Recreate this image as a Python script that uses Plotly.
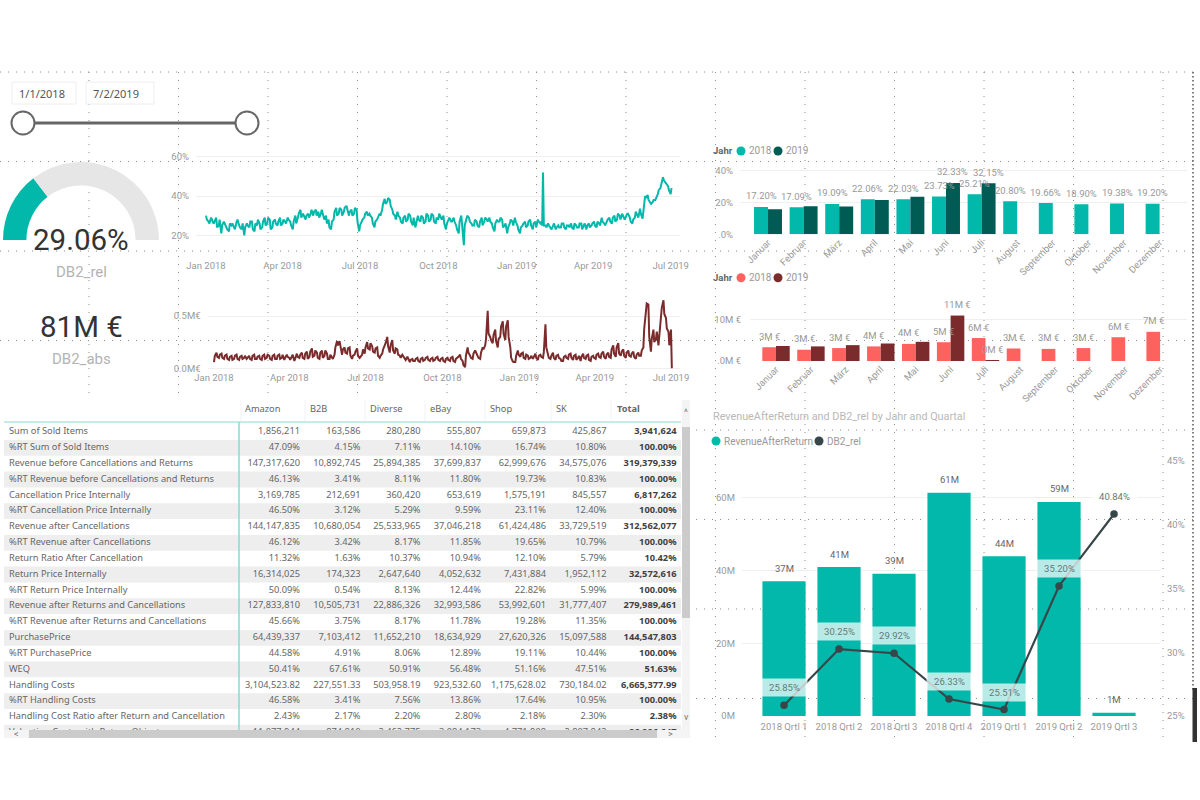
import pandas as pd
import plotly.graph_objects as go

W, H = 1200, 800
FONT = "Roboto"
TFONT = "Noto Sans"
GREY = "#999999"

# ---------- data ----------
gauge_value = [29.06, 70.94, 100]
rel_values = [
    30,27,29,26,29,25,21,27,24,22,
    25,24,27,25,23,20,26,24,27,22,
    25,26,24,29,26,28,24,28,25,29,
    26,27,29,27,23,30,29,33,31,28,
    31,31,30,33,32,31,29,30,28,23,
    28,34,31,33,32,35,30,33,31,33,
    22,27,29,32,31,29,24,28,31,33,
    38.5,37,38,33,30,32,29,26,30,28,
    30,25,24,30,27,29,27,30,28,30,
    26,28,29,30,23,28,27,29,25,21,
    30,15,28,29,26,25,27,24,29,27,
    28,29,26,22,28,27,28,25,21,26,
    27,29,25,21,25,27,25,28,23,27,
    28,26,52,25,26,24,25,23,25,24,
    26,23,25,26,23,25,24,26,25,23,
    26,25,27,24,26,29,26,27,29,26,
    30,28,30,31,28,31,29,26,29,30,
    33.5,28.5,40,40.5,37,37,38,41,44,49.5,
    47,45,41]
rel_between = [
    28,26,28,27,24,28,25,26,23,26,
    26,23,28,24,26,24,25,27,23,26,
    28,23,27,25,29,23,27,26,27,25,
    28,26,28,25,27,26,31,29,30,30,
    29,33,32,30,29,33,28,26,24,27,
    32,30,34,30,34,33,32,30,34,27,
    25,28,31,30,30,26,27,29,30,36,
    36,39,35,31,28,30,27,29,27,31,
    27,29,26,28,30,26,31,27,31,27,
    29,31,28,26,26,29,27,27,23,27,
    25,25,30,27,25,28,25,27,25,29,
    27,27,24,26,27,29,24,26,24,28,
    25,27,23,24,26,24,27,25,26,24,
    27,27,25,24,25,23,26,24,24,26,
    24,25,24,24,26,24,26,23,26,25,
    24,26,25,27,25,27,25,28,27,29,
    27,31,28,30,29,31,27,28,32,29,
    31,33,39,38,36,38,39,43,46,48,
    46,43,44]
rel_extra_dates = ["2019-01-31"]
rel_extra_values = [25]
abs_values = [
    .06,.15,.10,.14,.09,.13,.08,.12,.09,.13,
    .08,.12,.10,.09,.12,.08,.13,.09,.12,.08,
    .13,.10,.12,.08,.13,.09,.13,.10,.08,.13,
    .10,.12,.07,.14,.10,.15,.09,.16,.11,.19,
    .12,.15,.09,.17,.12,.14,.09,.11,.13,.26,
    .26,.13,.20,.14,.20,.09,.13,.19,.10,.13,
    .14,.25,.18,.21,.15,.20,.10,.14,.21,.30,
    .15,.27,.14,.18,.12,.13,.09,.11,.06,.09,
    .07,.10,.06,.10,.08,.11,.07,.10,.08,.11,
    .07,.10,.06,.10,.07,.11,.06,.10,.13,.07,
    .01,.20,.12,.09,.17,.12,.09,.20,.22,.55,
    .30,.24,.37,.20,.30,.45,.27,.46,.20,.065,
    .06,.17,.11,.15,.09,.12,.10,.09,.14,.08,
    .13,.10,.42,.13,.09,.15,.08,.13,.09,.07,
    .12,.09,.14,.08,.13,.10,.07,.14,.09,.13,
    .07,.12,.09,.14,.10,.16,.09,.15,.10,.22,
    .11,.24,.12,.18,.10,.17,.11,.16,.09,.15,
    .12,.20,.54,.61,.16,.37,.28,.22,.43,.65,
    .48,.35,.37]
abs_between = [
    .12,.11,.13,.10,.12,.09,.11,.08,.12,.09,
    .11,.09,.12,.10,.09,.12,.09,.11,.09,.12,
    .09,.13,.09,.12,.09,.12,.09,.13,.10,.11,
    .08,.13,.09,.11,.13,.10,.14,.09,.16,.11,
    .17,.10,.15,.10,.17,.09,.13,.09,.20,.22,
    .20,.18,.15,.19,.12,.12,.16,.12,.11,.18,
    .20,.19,.24,.16,.19,.12,.12,.18,.24,.21,
    .22,.17,.19,.13,.10,.12,.08,.09,.08,.07,
    .09,.07,.09,.07,.10,.08,.09,.07,.10,.08,
    .09,.07,.09,.08,.10,.07,.09,.11,.09,.03,
    .12,.15,.10,.14,.15,.10,.15,.18,.28,.33,
    .27,.32,.26,.28,.40,.33,.40,.30,.10,.06,
    .12,.13,.14,.10,.13,.09,.12,.11,.10,.12,
    .11,.15,.20,.10,.12,.10,.12,.10,.07,.11,
    .10,.13,.10,.12,.08,.12,.11,.10,.12,.08,
    .11,.10,.13,.11,.14,.11,.13,.11,.18,.14,
    .20,.14,.16,.12,.15,.12,.14,.11,.13,.12,
    .17,.38,.62,.30,.28,.25,.35,.30,.58,.52,
    .38,.22,.0]
date_ticks = ["2018-01-01", "2018-04-01", "2018-07-01", "2018-10-01", "2019-01-01", "2019-04-01", "2019-07-01"]

months = ["Januar", "Februar", "März", "April", "Mai", "Juni", "Juli", "August",
          "September", "Oktober", "November", "Dezember"]
pct_2018 = [17.20, 17.09, 19.09, 22.06, 22.03, 23.73, 25.21, 20.80, 19.66, 18.90, 19.38, 19.20]
pct_2019 = [15.8, 17.7, 17.5, 21.5, 23.6, 32.33, 32.15, None, None, None, None, None]
pct_2018_labels = ["17.20%", "17.09%", "19.09%", "22.06%", "22.03%", "23.73%", "25.21%", "20.80%", "19.66%", "18.90%", "19.38%", "19.20%"]
pct_2019_labels = [None, None, None, None, None, "32.33%", "32.15%", None, None, None, None, None]
eur_2018 = [3.3, 2.7, 3.1, 3.5, 4.1, 4.5, 5.5, 3.0, 2.9, 3.1, 5.7, 7.0]
eur_2019 = [3.6, 3.5, 3.8, 4.2, 4.6, 10.9, 0.24, None, None, None, None, None]
eur_2018_labels = ["3M €", "3M €", "3M €", "4M €", "4M €", "5M €", "6M €", "3M €", "3M €", "3M €", "6M €", "7M €"]
eur_2019_labels = [None, None, None, None, None, "11M €", "0M €", None, None, None, None, None]

quarters = ["2018 Qrtl 1", "2018 Qrtl 2", "2018 Qrtl 3", "2018 Qrtl 4", "2019 Qrtl 1", "2019 Qrtl 2", "2019 Qrtl 3"]
revenue = [37.0, 40.9, 39.1, 61.3, 43.9, 58.8, 0.9]
revenue_labels = ["37M", "41M", "39M", "61M", "44M", "59M", "1M"]
db2_rel = [25.85, 30.25, 29.92, 26.33, 25.51, 35.20, 40.84]
db2_labels = ["25.85%", "30.25%", "29.92%", "26.33%", "25.51%", "35.20%", "40.84%"]

row_labels = ["Sum of Sold Items", "%RT Sum of Sold Items", "Revenue before Cancellations and Returns",
              "%RT Revenue before Cancellations and Returns", "Cancellation Price Internally",
              "%RT Cancellation Price Internally", "Revenue after Cancellations", "%RT Revenue after Cancellations",
              "Return Ratio After Cancellation", "Return Price Internally", "%RT Return Price Internally",
              "Revenue after Returns and Cancellations", "%RT Revenue after Returns and Cancellations",
              "PurchasePrice", "%RT PurchasePrice", "WEQ", "Handling Costs", "%RT Handling Costs",
              "Handling Cost Ratio after Return and Cancellation", "Valuation Costs with Return Objects"]
amazon = ["1,856,211","47.09%","147,317,620","46.13%","3,169,785","46.50%","144,147,835","46.12%","11.32%","16,314,025","50.09%","127,833,810","45.66%","64,439,337","44.58%","50.41%","3,104,523.82","46.58%","2.43%","11,077,944"]
b2b = ["163,586","4.15%","10,892,745","3.41%","212,691","3.12%","10,680,054","3.42%","1.63%","174,323","0.54%","10,505,731","3.75%","7,103,412","4.91%","67.61%","227,551.33","3.41%","2.17%","874,810"]
diverse = ["280,280","7.11%","25,894,385","8.11%","360,420","5.29%","25,533,965","8.17%","10.37%","2,647,640","8.13%","22,886,326","8.17%","11,652,210","8.06%","50.91%","503,958.19","7.56%","2.20%","2,462,775"]
ebay = ["555,807","14.10%","37,699,837","11.80%","653,619","9.59%","37,046,218","11.85%","10.94%","4,052,632","12.44%","32,993,586","11.78%","18,634,929","12.89%","56.48%","923,532.60","13.86%","2.80%","3,084,173"]
shop = ["659,873","16.74%","62,999,676","19.73%","1,575,191","23.11%","61,424,486","19.65%","12.10%","7,431,884","22.82%","53,992,601","19.28%","27,620,326","19.11%","51.16%","1,175,628.02","17.64%","2.18%","4,771,908"]
sk = ["425,867","10.80%","34,575,076","10.83%","845,557","12.40%","33,729,519","10.79%","5.79%","1,952,112","5.99%","31,777,407","11.35%","15,097,588","10.44%","47.51%","730,184.02","10.95%","2.30%","2,807,842"]
total = ["3,941,624","100.00%","319,379,339","100.00%","6,817,262","100.00%","312,562,077","100.00%","10.42%","32,572,616","100.00%","279,989,461","100.00%","144,547,803","100.00%","51.63%","6,665,377.99","100.00%","2.38%","26,886,647"]
col_names = ["Amazon", "B2B", "Diverse", "eBay", "Shop", "SK", "Total"]

# ---------- helpers ----------
def xd(a, b): return [a / W, b / W]
def yd(top, bot): return [1 - bot / H, 1 - top / H]
def px(v): return v / W
def py(v): return 1 - v / H

shapes, annos = [], []
def paper_rect(x0, y0, x1, y1, fill, line=None, layer="below"):
    shapes.append(dict(type="rect", xref="paper", yref="paper", x0=px(x0), x1=px(x1), y0=py(y1), y1=py(y0),
                       fillcolor=fill, line=dict(color=line or fill, width=1 if line else 0), layer=layer))
def paper_circle(cx, cy, r, fill, line=None, lw=0, layer="above"):
    shapes.append(dict(type="circle", xref="paper", yref="paper", x0=px(cx - r), x1=px(cx + r), y0=py(cy + r), y1=py(cy - r),
                       fillcolor=fill, line=dict(color=line or fill, width=lw), layer=layer))
def paper_line(x0, y0, x1, y1, color, width, dash="solid", layer="below"):
    shapes.append(dict(type="line", xref="paper", yref="paper", x0=px(x0), x1=px(x1), y0=py(y0), y1=py(y1),
                       line=dict(color=color, width=width, dash=dash), layer=layer))
def label(x, y, text, size=10, color=GREY, anchor="center", font=FONT):
    annos.append(dict(xref="paper", yref="paper", x=px(x), y=py(y), text=text, showarrow=False, xanchor=anchor, yanchor="middle",
                      font=dict(family=font, size=size, color=color)))

# ---------- designer dotted grid ----------
DOT = "1px,7px"
for y in [72, 161.5, 251, 340.5, 430, 519.5, 609, 698.5]:
    paper_line(0, y, 1193, y, "#8c8c8c", 1, DOT)
for x in [89, 178.5, 268, 357.5, 447, 536.5, 626, 715.5, 805, 894.5, 984, 1073.5, 1163]:
    paper_line(x, 72, x, 742, "#8c8c8c", 1, DOT)
paper_line(1193, 72, 1193, 690, "#555555", 1.5, "1.5px,2.5px")
paper_rect(1192.5, 688, 1197, 742, "#333333", layer="above")
paper_rect(0, 398, 692, 742, "white")

# ---------- date slicer ----------
for a, b, t in [(12, 76, "1/1/2018"), (86, 154, "7/2/2019")]:
    paper_rect(a, 82, b, 104, "white", "#eeeeee", layer="above")
    label(a + 5, 93.5, t, 11, "#555555", "left", TFONT)
paper_line(34, 123, 236, 123, "#666666", 3, layer="above")
paper_circle(23, 123, 11.5, "white", "#666666", 2)
paper_circle(247, 123, 11.5, "white", "#666666", 2)

fig = go.Figure()

# ---------- gauge ----------
fig.add_trace(go.Pie(values=gauge_value, domain=dict(x=xd(3, 159), y=yd(162, 318)), hole=0.7, sort=False,
                     direction="clockwise", rotation=270, textinfo="none", hoverinfo="skip", showlegend=False,
                     marker=dict(colors=["#01B8AA", "#E6E6E6", "rgba(0,0,0,0)"], line=dict(width=0))))
label(81, 240, "29.06%", 29.5, "#333333")
label(81, 272, "DB2_rel", 15, "#b3b3b3")
label(81, 327, "81M €", 29.5, "#333333")
label(81, 359, "DB2_abs", 15, "#b3b3b3")

axis_common = dict(showline=False, zeroline=False, automargin=False, tickfont=dict(family=FONT, size=9.5, color=GREY))
layout_axes = {}

# ---------- line charts ----------
def daily_series(values, between, extra_dates=(), extra_values=()):
    d = pd.date_range("2018-01-01", periods=len(values), freq="3D")
    parts = [pd.Series(values, index=d), pd.Series(between, index=d + pd.Timedelta(days=1))]
    if len(extra_dates):
        parts.append(pd.Series(list(extra_values), index=pd.to_datetime(list(extra_dates))))
    return pd.concat(parts).sort_index()

rel_s = daily_series(rel_values, rel_between, rel_extra_dates, rel_extra_values)
abs_s = daily_series(abs_values, abs_between)

t0 = pd.Timestamp("2018-01-01")
fig.add_trace(go.Scatter(x=rel_s.index, y=rel_s.values, mode="lines", line=dict(color="#01B8AA", width=2), xaxis="x", yaxis="y", showlegend=False))
layout_axes["xaxis"] = dict(domain=xd(196, 680), anchor="y", type="date",
                            range=[t0 + pd.Timedelta(days=-10 / 0.851), t0 + pd.Timedelta(days=474 / 0.851)],
                            tickvals=date_ticks, tickformat="%b %Y", showgrid=False, **axis_common)
layout_axes["yaxis"] = dict(domain=yd(150, 258), anchor="x", range=[20 - 22.7 / 1.965, 20 + 85.3 / 1.965],
                            tickvals=[20, 40, 60], ticktext=["20%", "40%", "60%"], gridcolor="#efefef", ticklabelstandoff=6, **axis_common)

fig.add_trace(go.Scatter(x=abs_s.index, y=abs_s.values, mode="lines", line=dict(color="#7B2B2B", width=2), xaxis="x2", yaxis="y2", showlegend=False))
layout_axes["xaxis2"] = dict(domain=xd(207.6, 680), anchor="y2", type="date",
                             range=[t0 + pd.Timedelta(days=-6.4 / 0.837), t0 + pd.Timedelta(days=466 / 0.837)],
                             tickvals=date_ticks, tickformat="%b %Y", showgrid=False, **axis_common)
layout_axes["yaxis2"] = dict(domain=yd(295, 370), anchor="x2", range=[-1.7 / 104.6, 73.3 / 104.6],
                             tickvals=[0, 0.5], ticktext=["0.0M€", "0.5M€"], gridcolor="#efefef", ticklabelstandoff=6, **axis_common)

# ---------- month bar charts ----------
BARGAP = 0.215
def bar_labels(xref, yref, labels, vals, side):
    offs = (1 - BARGAP) / 4 * side
    for i, (t, v) in enumerate(zip(labels, vals)):
        if t:
            annos.append(dict(xref=xref, yref=yref, x=i + offs, y=v, text=t, showarrow=False, yshift=11, yanchor="middle",
                              font=dict(family=FONT, size=9.5, color=GREY)))

fig.add_trace(go.Bar(x=months, y=pct_2018, name="2018", marker=dict(color="#01B8AA", line=dict(width=0)), xaxis="x3", yaxis="y3", offsetgroup="a", showlegend=False))
fig.add_trace(go.Bar(x=months, y=pct_2019, name="2019", marker=dict(color="#005B54", line=dict(width=0)), xaxis="x3", yaxis="y3", offsetgroup="b", showlegend=False))
bar_labels("x3", "y3", pct_2018_labels, pct_2018, -1)
bar_labels("x3", "y3", pct_2019_labels, pct_2019, 1)
layout_axes["xaxis3"] = dict(domain=xd(740, 1187), anchor="y3", type="category", range=[-0.787, 11.77], tickangle=-45, showgrid=False, **axis_common)
layout_axes["yaxis3"] = dict(domain=yd(165, 234.3), anchor="x3", range=[0, 69.3 / 1.59], tickvals=[0, 20, 40],
                             ticktext=[".0%", "20%", "40%"], gridcolor="#efefef", ticklabelstandoff=6, **axis_common)

fig.add_trace(go.Bar(x=months, y=eur_2018, name="2018", marker=dict(color="#FD625E", line=dict(width=0)), xaxis="x4", yaxis="y4", offsetgroup="a", showlegend=False))
fig.add_trace(go.Bar(x=months, y=eur_2019, name="2019", marker=dict(color="#7B2B2B", line=dict(width=0)), xaxis="x4", yaxis="y4", offsetgroup="b", showlegend=False))
bar_labels("x4", "y4", eur_2018_labels, eur_2018, -1)
bar_labels("x4", "y4", eur_2019_labels, eur_2019, 1)
layout_axes["xaxis4"] = dict(domain=xd(750, 1187), anchor="y4", type="category", range=[-0.745, 11.77], tickangle=-45, showgrid=False, **axis_common)
layout_axes["yaxis4"] = dict(domain=yd(300, 361), anchor="x4", range=[0, 61 / 4.17], tickvals=[0, 10],
                             ticktext=[".0M €", "10M €"], gridcolor="#efefef", ticklabelstandoff=8, **axis_common)

for y, c1, c2 in [(151, "#01B8AA", "#005B54"), (277.7, "#FD625E", "#7B2B2B")]:
    label(711, y, "<b>Jahr</b>", 9.5, "#666666", "left")
    paper_circle(741, y, 4.5, c1)
    label(747, y, "2018", 10, GREY, "left")
    paper_circle(778, y, 4.5, c2)
    label(784, y, "2019", 10, GREY, "left")

# ---------- combo chart ----------
label(711, 416, "RevenueAfterReturn and DB2_rel by Jahr and Quartal", 10.8, "#b8b8b8", "left")
paper_circle(716, 441, 4.5, "#01B8AA")
label(722, 441, "RevenueAfterReturn", 10, GREY, "left")
paper_circle(819, 441, 4.5, "#374649")
label(825, 441, "DB2_rel", 10, GREY, "left")

fig.add_trace(go.Bar(x=quarters, y=revenue, name="RevenueAfterReturn", marker=dict(color="#01B8AA", line=dict(width=0)), xaxis="x5", yaxis="y5", showlegend=False))
fig.add_trace(go.Scatter(x=quarters, y=db2_rel, name="DB2_rel", mode="lines+markers", line=dict(color="#374649", width=2.2),
                         marker=dict(color="#374649", size=7.5), xaxis="x5", yaxis="y6", showlegend=False))
layout_axes["xaxis5"] = dict(domain=xd(742, 1160), anchor="y5", type="category", range=[-0.764, 6.836], showgrid=False, ticklabelstandoff=3, **axis_common)
layout_axes["yaxis5"] = dict(domain=yd(450, 716), anchor="x5", range=[0, 266 / 3.64], tickvals=[0, 20, 40, 60],
                             ticktext=["0M", "20M", "40M", "60M"], gridcolor="#efefef", ticklabelstandoff=6, **axis_common)
layout_axes["yaxis6"] = dict(domain=yd(450, 716), anchor="x5", overlaying="y5", side="right", range=[25, 25 + 266 / 12.75],
                             tickvals=[25, 30, 35, 40, 45], ticktext=["25%", "30%", "35%", "40%", "45%"], showgrid=False, ticklabelstandoff=6, **axis_common)
for i, (t, v) in enumerate(zip(revenue_labels, revenue)):
    annos.append(dict(xref="x5", yref="y5", x=i, y=v, text=t, showarrow=False, yshift=13, yanchor="middle",
                      font=dict(family=FONT, size=9.5, color="#666666")))
for i, (t, v) in enumerate(zip(db2_labels, db2_rel)):
    annos.append(dict(xref="x5", yref="y6", x=i, y=v, text=t, showarrow=False, yshift=17.5, yanchor="middle", width=43, height=15,
                      bgcolor="rgba(255,255,255,0.72)", font=dict(family=FONT, size=9.5, color="#667a78")))

# ---------- table ----------
TX, TY = "x6", "y7"
row_top_gap = 15.83
rows = list(range(len(row_labels)))
for i in rows:
    if i % 2 == 1:
        shapes.append(dict(type="rect", xref=TX, yref=TY, x0=4, x1=681, y0=i - 0.5, y1=i + 0.5,
                           fillcolor="#eeeeee", line=dict(width=0), layer="below"))
tfont = dict(family=TFONT, size=9.25, color="#666666")
fig.add_trace(go.Scatter(x=[9] * len(rows), y=rows, text=row_labels, mode="text", textposition="middle right", textfont=tfont,
                         xaxis=TX, yaxis=TY, showlegend=False, cliponaxis=True, hoverinfo="skip"))
col_right = [300, 360.5, 420.5, 481, 546, 606.5]
for col, xr in zip([amazon, b2b, diverse, ebay, shop, sk], col_right):
    fig.add_trace(go.Scatter(x=[xr] * len(rows), y=rows, text=col, mode="text", textposition="middle left", textfont=tfont,
                             xaxis=TX, yaxis=TY, showlegend=False, cliponaxis=True, hoverinfo="skip"))
fig.add_trace(go.Scatter(x=[676.5] * len(rows), y=rows, text=[f"<b>{v}</b>" for v in total], mode="text", textposition="middle left",
                         textfont=dict(family=TFONT, size=9.25, color="#404040"), xaxis=TX, yaxis=TY, showlegend=False, cliponaxis=True, hoverinfo="skip"))
head_x = [245, 310, 370, 430, 490, 556, 617]
HEAD_ROW = -1.39
fig.add_trace(go.Scatter(x=head_x, y=[HEAD_ROW] * 7, text=col_names[:-1] + [f"<b>{col_names[-1]}</b>"], mode="text", textposition="middle right",
                         textfont=tfont, xaxis=TX, yaxis=TY, showlegend=False, hoverinfo="skip"))
layout_axes["xaxis6"] = dict(domain=xd(4, 681), anchor="y7", range=[4, 681], visible=False, automargin=False)
layout_axes["yaxis7"] = dict(domain=yd(400, 732), anchor="x6", range=[(732 - 432) / row_top_gap, (400 - 432) / row_top_gap], visible=False, automargin=False)

paper_line(4, 422, 681, 422, "#8FD6D0", 1, layer="above")
paper_line(239, 422, 239, 731, "#8FD6D0", 1.5, layer="above")
for x in [241, 305, 365, 425, 485, 551, 611]:
    paper_line(x, 400, x, 421, "#f2f2f2", 1, layer="above")
# scrollbars
paper_rect(682, 400, 690, 730, "#f4f4f4", layer="above")
paper_rect(682, 427, 690, 618, "#cbcbcb", layer="above")
paper_rect(4, 730, 690, 738, "#f4f4f4", layer="above")
paper_rect(29, 730, 657, 738, "#cbcbcb", layer="above")
label(686, 412, "^", 9, "#777777")
label(686, 717, "v", 9, "#777777")
label(16, 734, "<", 9, "#777777")
label(670, 734, ">", 9, "#777777")

fig.update_layout(width=W, height=H, margin=dict(l=0, r=0, t=0, b=0, autoexpand=False), paper_bgcolor="white", plot_bgcolor="rgba(0,0,0,0)",
                  barmode="group", bargap=BARGAP, bargroupgap=0, shapes=shapes, annotations=annos, showlegend=False,
                  font=dict(family=FONT), **layout_axes)
fig.write_html("out.html", config=dict(displayModeBar=False), post_script="document.body.style.margin='0';")
